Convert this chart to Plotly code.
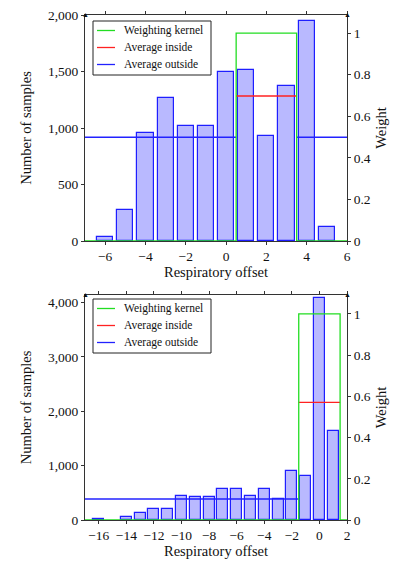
import plotly.graph_objects as go

# ---------------- data: top panel ----------------
top_offsets = [-6, -5, -4, -3, -2, -1, 0, 1, 2, 3, 4, 5]
top_counts = [33, 274, 958, 1265, 1018, 1020, 1498, 1510, 932, 1372, 1947, 127]
top_kernel_edges = [0.5, 3.5]
top_avg_inside = 1283
top_avg_outside = 918
top_xrange = [-7, 6]
top_xticks = [-6, -4, -2, 0, 2, 4, 6]
top_yticks = [0, 500, 1000, 1500, 2000]

# ---------------- data: bottom panel ----------------
bot_offsets = [-16, -14, -13, -12, -11, -10, -9, -8, -7, -6, -5, -4, -3, -2, -1, 0, 1]
bot_counts = [25, 61, 123, 209, 209, 442, 417, 429, 570, 570, 448, 570, 380, 902, 816, 4086, 1644]
bot_kernel_edges = [-1.5, 1.5]
bot_avg_inside = 2163
bot_avg_outside = 386
bot_xrange = [-17, 2]
bot_xticks = [-16, -14, -12, -10, -8, -6, -4, -2, 0, 2]
bot_yticks = [0, 1000, 2000, 3000, 4000]

weight_ticks = [0, 0.2, 0.4, 0.6, 0.8, 1]
legend_labels = ["Weighting kernel", "Average inside", "Average outside"]
legend_colors = ["#22dd22", "#ff2222", "#2222ff"]

FONT = "Liberation Serif"
BAR_FILL = "rgba(60,60,255,0.36)"
BAR_LINE = "rgb(30,30,255)"

W, H = 398, 561
ML, MR, MT, MB = 85, 51, 15, 41
PW, PH = W - ML - MR, H - MT - MB


def px_x(p):
    return (p - ML) / PW


def px_y(p):
    return (H - MB - p) / PH


fig = go.Figure()


def add_panel(offsets, counts, edges, avg_in, avg_out, xr, xa, ya, ya2, right_outside=True):
    fig.add_trace(go.Bar(
        x=offsets, y=counts, width=0.8,
        marker=dict(color=BAR_FILL, line=dict(color=BAR_LINE, width=1.2)),
        showlegend=False, xaxis=xa, yaxis=ya))
    ox = [xr[0], edges[0]]
    oy = [avg_out, avg_out]
    if right_outside:
        ox += [None, edges[1], xr[1]]
        oy += [None, avg_out, avg_out]
    fig.add_trace(go.Scatter(
        x=[edges[0], edges[1]], y=[avg_in, avg_in], mode="lines",
        line=dict(color=legend_colors[1], width=1.3),
        showlegend=False, xaxis=xa, yaxis=ya))
    fig.add_trace(go.Scatter(
        x=ox, y=oy, mode="lines", connectgaps=False,
        line=dict(color=legend_colors[2], width=1.3),
        showlegend=False, xaxis=xa, yaxis=ya))
    fig.add_trace(go.Scatter(
        x=[xr[0], edges[0], edges[1], xr[1]], y=[0, 1, 0, 0], mode="lines",
        line=dict(color=legend_colors[0], width=1.3, shape="hv"),
        showlegend=False, xaxis=xa, yaxis=ya2))


add_panel(top_offsets, top_counts, top_kernel_edges, top_avg_inside, top_avg_outside,
          top_xrange, "x", "y", "y2", True)
add_panel(bot_offsets, bot_counts, bot_kernel_edges, bot_avg_inside, bot_avg_outside,
          bot_xrange, "x2", "y3", "y4", False)

axis_common = dict(showline=True, linecolor="#333", linewidth=1, showgrid=False,
                   zeroline=False, ticks="outside", ticklen=3, tickcolor="#333",
                   automargin=False,
                   tickfont=dict(family=FONT, size=13.5, color="#111"))
title_font = dict(family=FONT, size=14.5, color="#111")

fig.update_layout(
    width=W, height=H,
    margin=dict(l=ML, r=MR, t=MT, b=MB),
    paper_bgcolor="white", plot_bgcolor="white",
    bargap=0, showlegend=False,
    font=dict(family=FONT, color="#111"),
    xaxis=dict(domain=[0, 1], anchor="y", range=top_xrange, tickvals=top_xticks,
               mirror="ticks", title=dict(text="Respiratory offset", font=title_font, standoff=3),
               **axis_common),
    yaxis=dict(domain=[px_y(241), 1], anchor="x", range=[0, 2000], tickvals=top_yticks,
               tickformat=",", title=dict(text="Number of samples", font=title_font, standoff=12),
               **axis_common),
    yaxis2=dict(overlaying="y", anchor="x", side="right", range=[0, 1.087],
                tickvals=weight_ticks, tickformat="~g",
                title=dict(text="Weight", font=title_font, standoff=6), **axis_common),
    xaxis2=dict(domain=[0, 1], anchor="y3", range=bot_xrange, tickvals=bot_xticks,
                mirror="ticks", title=dict(text="Respiratory offset", font=title_font, standoff=3),
                **axis_common),
    yaxis3=dict(domain=[0, px_y(295)], anchor="x2", range=[0, 4136], tickvals=bot_yticks,
                tickformat=",", title=dict(text="Number of samples", font=title_font, standoff=12),
                **axis_common),
    yaxis4=dict(overlaying="y3", anchor="x2", side="right", range=[0, 1.092],
                tickvals=weight_ticks, tickformat="~g",
                title=dict(text="Weight", font=title_font, standoff=6), **axis_common),
)

# hand-drawn legends (box, line samples, labels) in paper coordinates
for box_top in [21, 299]:
    fig.add_shape(type="rect", xref="paper", yref="paper",
                  x0=px_x(93), x1=px_x(211), y0=px_y(box_top), y1=px_y(box_top + 54),
                  line=dict(color="#222", width=1), fillcolor="white", layer="above")
    for i, (lab, col) in enumerate(zip(legend_labels, legend_colors)):
        yy = box_top + 9.5 + i * 17
        fig.add_shape(type="line", xref="paper", yref="paper",
                      x0=px_x(97), x1=px_x(115), y0=px_y(yy), y1=px_y(yy),
                      line=dict(color=col, width=1.3), layer="above")
        fig.add_annotation(x=px_x(122), y=px_y(yy), xref="paper", yref="paper",
                           text=lab, showarrow=False, xanchor="left", yanchor="middle",
                           font=dict(family=FONT, size=11.5, color="#111"))

# small arrow heads at the top of the vertical axes
for yd, xd in [("y domain", "x domain"), ("y3 domain", "x2 domain")]:
    for xpos in [0, 1]:
        fig.add_annotation(x=xpos, y=1, xref=xd, yref=yd, text="▲", showarrow=False,
                           font=dict(size=7, color="#111"), xanchor="center", yanchor="middle")

fig.write_html("out.html", config={"displayModeBar": False},
               post_script="document.body.style.margin='0px';document.body.style.overflow='hidden';")
